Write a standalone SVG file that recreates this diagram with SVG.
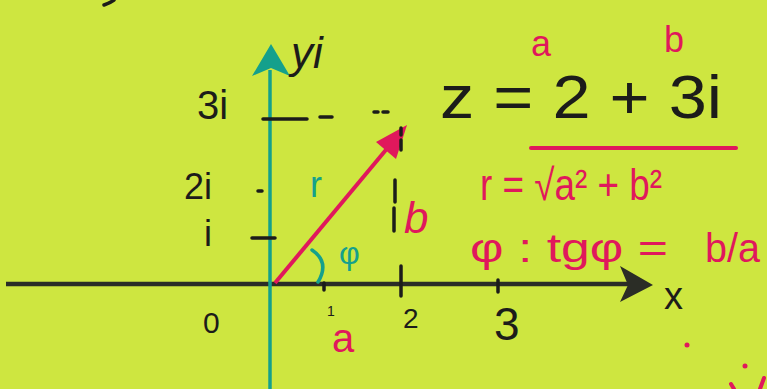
<svg xmlns="http://www.w3.org/2000/svg" width="767" height="389" viewBox="0 0 767 389">
<defs>
<style>
.ink{fill:#1c1c1a;font-family:"Liberation Sans",sans-serif}
.pink{fill:#e0185c;font-family:"Liberation Sans",sans-serif}
.teal{fill:#14a08c;font-family:"Liberation Sans",sans-serif}
.tick{stroke:#1c1c1a;stroke-width:3.5;stroke-linecap:round;fill:none}
</style>
</defs>
<rect width="767" height="389" fill="#cee640"/>
<path d="M104,5 Q110,3 114,0" class="tick"/>
<g id="connectors">
<line x1="6" y1="284" x2="628" y2="284" stroke="#2b2d26" stroke-width="4.5"/>
<polygon points="620,266 653,285 620,302 628,285" fill="#2b2d26"/>
<line x1="270" y1="70" x2="270" y2="389" stroke="#14a08c" stroke-width="3.5"/>
<polygon points="271,44 290,76 271,68 252,76" fill="#14a08c"/>
<line x1="275" y1="283" x2="390" y2="145" stroke="#e0185c" stroke-width="4"/>
<polygon points="407,125 396,159 376,142" fill="#e0185c"/>
<path d="M401,128 V135 M401,140 V150 M395,180 V202 M394,208 V231" class="tick"/>
<path d="M263,119 H307 M320,117 H332 M374,112 H378 M383,112 H388" class="tick"/>
<path d="M252,238 H275 M258,191 H262" class="tick"/>
<path d="M324,283 V290 M401,266 V296 M498,280 V292" class="tick"/>
<path d="M312,250 Q330,262 318,282" stroke="#14a08c" stroke-width="3.5" fill="none" stroke-linecap="round"/>
</g>
<g id="axis-labels">
<text x="291" y="68" class="ink" font-size="44" font-style="italic">yi</text>
<text x="197" y="119" class="ink" font-size="40">3i</text>
<text x="184" y="199" class="ink" font-size="36">2i</text>
<text x="204" y="246" class="ink" font-size="36">i</text>
<text x="203" y="333" class="ink" font-size="30">0</text>
<text x="327" y="316" class="ink" font-size="14">1</text>
<text x="403" y="328" class="ink" font-size="28">2</text>
<text x="494" y="340" class="ink" font-size="46">3</text>
<text x="664" y="309" class="ink" font-size="38">x</text>
<text x="332" y="352" class="pink" font-size="40">a</text>
</g>
<g id="vector-labels">
<text x="310" y="197" class="teal" font-size="36">r</text>
<text x="339" y="264" class="teal" font-size="32">φ</text>
<text x="404" y="233" class="pink" font-size="44" font-style="italic">b</text>
</g>
<g id="equation">
<text x="440" y="118" class="ink" font-size="62" textLength="282" lengthAdjust="spacingAndGlyphs">z = 2 + 3i</text>
<text x="531" y="56" class="pink" font-size="36">a</text>
<text x="664" y="52" class="pink" font-size="36">b</text>
</g>
<g id="modulus">
<text x="480" y="200" class="pink" font-size="44" textLength="182" lengthAdjust="spacingAndGlyphs">r = √a² + b²</text>
<line x1="531" y1="148" x2="736" y2="148" stroke="#e0185c" stroke-width="4" stroke-linecap="round"/>
</g>
<g id="argument">
<text x="470" y="262" class="pink" font-size="40"><tspan textLength="198" lengthAdjust="spacingAndGlyphs">φ : tgφ =</tspan><tspan x="705" textLength="55" lengthAdjust="spacingAndGlyphs">b/a</tspan></text>
</g>
<circle cx="687" cy="345" r="2.5" fill="#e0185c"/>
<circle cx="745" cy="366" r="2.5" fill="#e0185c"/>
<path d="M731,384 L734,389 M764,378 L760,389" stroke="#e0185c" stroke-width="4" stroke-linecap="round"/>
</svg>
